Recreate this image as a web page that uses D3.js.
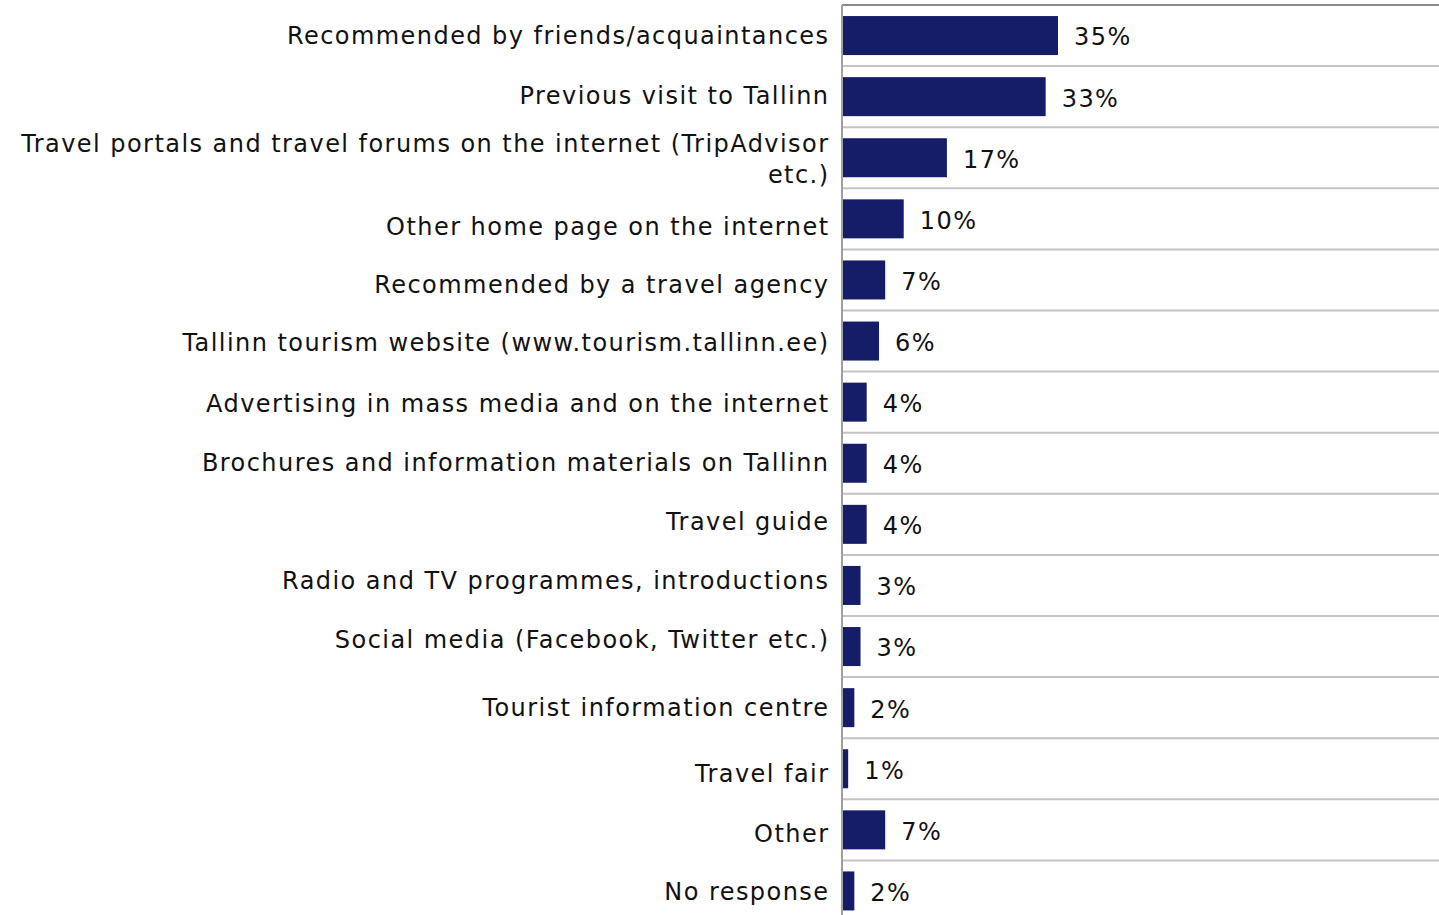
<!DOCTYPE html>
<html>
<head>
<meta charset="utf-8">
<script src="https://cdn.jsdelivr.net/npm/d3@7"></script>
<style>
  html, body { margin: 0; padding: 0; background: #fff; }
  svg { display: block; }
</style>
</head>
<body>
<svg id="chart" width="1439" height="915"></svg>
<script>
// Sources of information about Tallinn (% of respondents)
const categories = [
  "Recommended by friends/acquaintances",
  "Previous visit to Tallinn",
  "Travel portals and travel forums on the internet (TripAdvisor|etc.)",
  "Other home page on the internet",
  "Recommended by a travel agency",
  "Tallinn tourism website (www.tourism.tallinn.ee)",
  "Advertising in mass media and on the internet",
  "Brochures and information materials on Tallinn",
  "Travel guide",
  "Radio and TV programmes, introductions",
  "Social media (Facebook, Twitter etc.)",
  "Tourist information centre",
  "Travel fair",
  "Other",
  "No response"
];
const values = [35, 33, 17, 10, 7, 6, 4, 4, 4, 3, 3, 2, 1, 7, 2];

const W = 1439, H = 915;
const axisX = 842, plotTop = 5;
const bandH = 61.1;
const svg = d3.select("#chart");
const font = "'DejaVu Sans', Verdana, sans-serif";
const fontSize = 24;
const tracking = 1.45;

// vertical offsets of the category labels from their band centres
const labelNudge = [0.5, -1.5, 1.5, 7.5, 4.8, 1.5, 1.5, -0.5, -2.5, -4.6, -7, 0, 4.8, 3.9, 0.5];

const y = d3.scaleBand()
  .domain(categories)
  .range([plotTop, plotTop + bandH * categories.length])
  .paddingInner(0).paddingOuter(0);

const x = d3.scaleLinear().domain([0, 35]).range([axisX, axisX + 216]);

// horizontal separators between categories
const seps = categories.slice(1).map(c => y(c));
svg.selectAll("line.grid").data(seps).enter().append("line")
  .attr("class", "grid")
  .attr("x1", axisX).attr("x2", W)
  .attr("y1", d => d).attr("y2", d => d)
  .attr("stroke", "#c4c4c4").attr("stroke-width", 2);

// top border
svg.append("line")
  .attr("x1", axisX).attr("x2", W)
  .attr("y1", plotTop).attr("y2", plotTop)
  .attr("stroke", "#8a8a8a").attr("stroke-width", 2);

// bars
const barH = 39;
svg.selectAll("rect.bar").data(categories).enter().append("rect")
  .attr("class", "bar")
  .attr("x", axisX)
  .attr("y", d => y(d) + y.bandwidth() / 2 - barH / 2)
  .attr("width", (d, i) => x(values[i]) - axisX)
  .attr("height", barH)
  .attr("fill", "#161d68");

// vertical axis line
svg.append("line")
  .attr("x1", axisX).attr("x2", axisX)
  .attr("y1", plotTop).attr("y2", H)
  .attr("stroke", "#a0a0a0").attr("stroke-width", 2);

// value labels
svg.selectAll("text.val").data(categories).enter().append("text")
  .attr("class", "val")
  .attr("x", (d, i) => x(values[i]) + 16)
  .attr("y", d => y(d) + y.bandwidth() / 2 + 1.5)
  .attr("dy", "0.35em")
  .attr("font-family", font)
  .attr("font-size", fontSize)
  .attr("letter-spacing", tracking)
  .attr("fill", "#111")
  .text((d, i) => values[i] + "%");

// category labels (a "|" marks a line break)
const lab = svg.selectAll("text.cat").data(categories).enter().append("text")
  .attr("class", "cat")
  .attr("text-anchor", "end")
  .attr("font-family", font)
  .attr("font-size", fontSize)
  .attr("letter-spacing", tracking)
  .attr("fill", "#111");
lab.each(function(d, i) {
  const lines = d.split("|");
  const cy = y(d) + y.bandwidth() / 2 + labelNudge[i];
  const lh = 31;
  const t = d3.select(this);
  lines.forEach((ln, k) => {
    t.append("tspan")
      .attr("x", 829.5)
      .attr("y", cy + (k - (lines.length - 1) / 2) * lh)
      .attr("dy", "0.35em")
      .text(ln);
  });
});
</script>
</body>
</html>
